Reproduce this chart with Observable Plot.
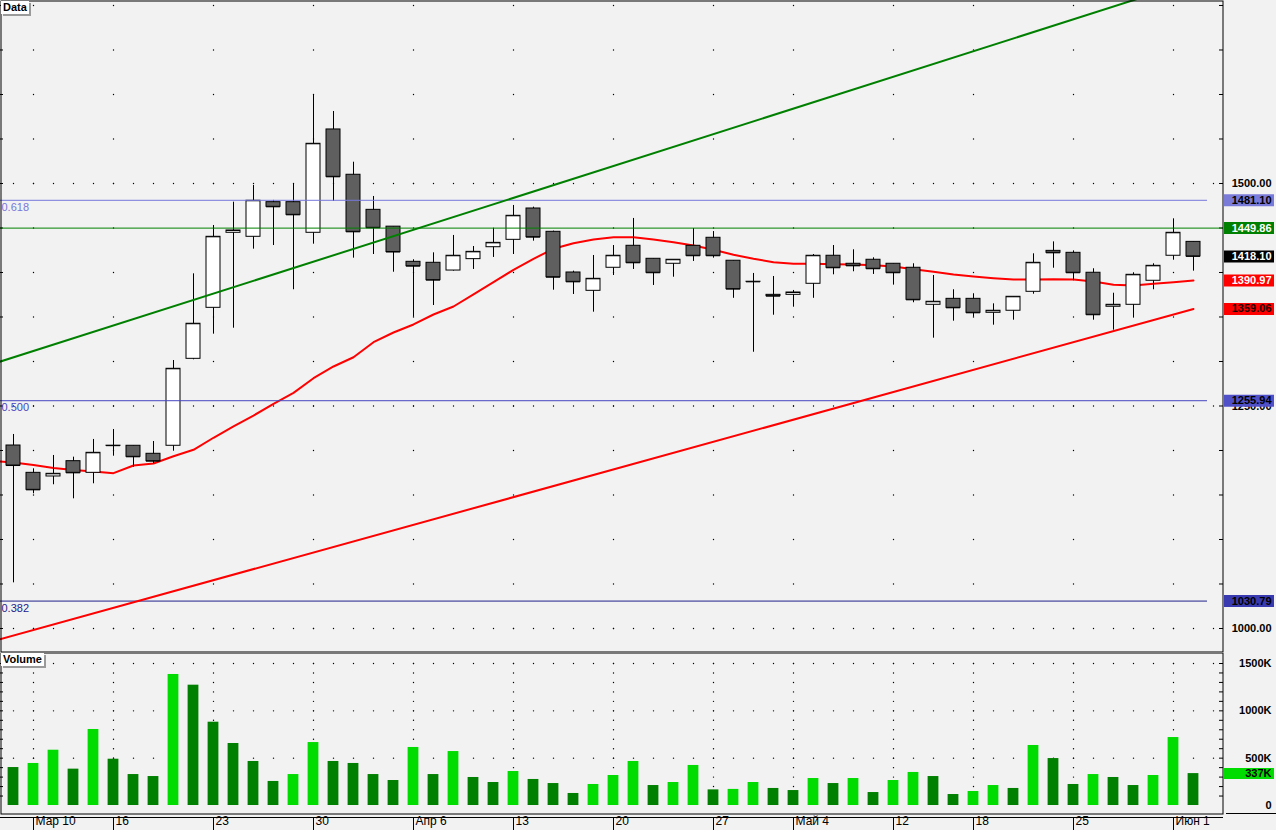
<!DOCTYPE html>
<html><head><meta charset="utf-8">
<script src="https://cdn.jsdelivr.net/npm/d3@7"></script>
<script src="https://cdn.jsdelivr.net/npm/@observablehq/plot@0.6"></script>
<style>
html,body{margin:0;padding:0;background:#f2f2f2;overflow:hidden;}
#chart{position:relative;width:1276px;height:830px;overflow:hidden;background:#f2f2f2;}
#chart svg{position:absolute;left:0;}
.tag{position:absolute;left:1px;background:#fff;font:bold 11px "Liberation Sans",Arial,sans-serif;color:#000;padding:0 2px 0 2px;line-height:13px;height:13px;box-shadow:2px 2px 0 #9a9a9a;}
</style></head><body><div id="chart"></div>
<script>
// ---- data ----
const openP  = [1205.6,1174.9,1170.8,1188.0,1174.9,1205.2,1205.3,1196.3,1205.3,1303.0,1360.3,1444.6,1440.1,1479.0,1479.0,1444.6,1560.7,1509.8,1470.4,1451.5,1412.0,1410.9,1402.2,1415.0,1428.4,1436.7,1471.9,1445.7,1400.0,1379.4,1405.3,1430.0,1415.4,1409.8,1430.0,1439.0,1413.2,1389.6,1374.9,1374.9,1387.3,1418.8,1409.8,1414.3,1409.8,1405.3,1363.7,1370.4,1370.4,1354.7,1357.0,1378.3,1424.3,1422.1,1399.7,1361.5,1363.7,1390.7,1418.8,1434.4];
const highP  = [1218.0,1179.4,1194.4,1192.5,1212.4,1223.6,1205.3,1210.1,1301.1,1398.5,1452.8,1479.0,1497.8,1481.0,1499.6,1599.6,1580.9,1523.9,1485.4,1451.5,1414.3,1422.1,1441.6,1429.2,1449.8,1475.3,1473.4,1446.5,1401.5,1419.1,1430.3,1460.7,1415.4,1414.3,1449.4,1446.0,1413.2,1398.9,1395.5,1379.8,1420.2,1430.3,1425.5,1416.5,1409.8,1409.8,1396.6,1380.6,1376.1,1364.8,1372.7,1421.0,1434.4,1424.3,1404.2,1376.7,1399.7,1409.8,1460.3,1434.4];
const lowP   = [1051.3,1151.3,1161.5,1145.7,1162.6,1193.6,1181.2,1185.0,1199.2,1301.9,1330.7,1337.4,1426.2,1430.3,1380.6,1431.8,1479.8,1416.1,1420.2,1400.3,1349.8,1362.9,1401.5,1403.4,1416.9,1420.2,1435.2,1380.1,1375.3,1355.4,1396.6,1403.4,1385.4,1394.7,1412.4,1416.1,1371.0,1310.4,1352.0,1361.0,1371.0,1397.4,1400.8,1397.8,1385.8,1366.0,1326.2,1345.3,1349.8,1340.8,1346.4,1375.6,1404.8,1390.7,1346.4,1335.2,1348.7,1380.6,1413.8,1401.5];
const closeP = [1183.1,1155.8,1173.8,1174.9,1197.4,1205.4,1192.9,1188.0,1291.8,1342.4,1440.1,1447.2,1480.6,1473.8,1464.8,1544.6,1507.5,1445.7,1450.2,1423.0,1407.1,1391.4,1418.8,1423.2,1433.3,1463.7,1439.7,1394.7,1389.5,1392.9,1418.8,1410.9,1399.7,1414.3,1418.8,1418.8,1381.3,1389.5,1373.4,1377.5,1418.8,1405.3,1407.5,1404.2,1399.7,1369.3,1367.1,1360.3,1354.7,1357.0,1372.7,1410.9,1422.1,1399.7,1352.5,1363.7,1397.4,1407.5,1444.6,1418.1];
const volumeK = [401,444,584,384,803,489,327,306,1384,1271,880,655,465,254,327,665,465,444,327,264,613,327,570,296,243,359,275,232,127,222,317,465,211,243,423,165,170,243,180,158,285,232,285,137,264,349,306,116,148,211,180,634,496,222,327,296,211,317,718,337];
// moving average, first value belongs to the session before the first candle
const maStart = -1;
const maValues = [1188.0,1186.5,1183.7,1180.3,1178.1,1176.4,1174.5,1183.1,1185.4,1193.6,1200.8,1214.3,1227.0,1239.3,1252.5,1264.8,1281.2,1294.4,1304.8,1321.7,1332.6,1341.6,1352.8,1361.8,1375.3,1389.1,1403.0,1415.4,1426.6,1432.9,1437.1,1439.7,1439.7,1437.1,1434.0,1430.3,1425.5,1419.9,1415.4,1411.6,1409.8,1409.8,1409.3,1409.0,1408.2,1406.7,1403.7,1400.8,1397.8,1395.5,1393.6,1392.1,1392.1,1392.5,1392.1,1389.9,1386.2,1385.4,1387.3,1389.1,1390.97];
const dateLabels = ["Мар 10","16","23","30","Апр 6","13","20","27","Май 4","12","18","25","Июн 1"];
const dateIndex  = [1,5,10,15,20,25,30,35,39,44,48,53,58];
const fibLabels = ["0.618","0.500","0.382"];
const fibValues = [1481.10,1255.94,1030.79];
const fibEndIndex = 59.7;
const greenLevel = 1449.86;
const greenTrendIdx = [-1,60], greenTrendVal = [1297.5,1734.7];
const redTrendIdx = [-1,59],  redTrendVal = [985.9,1359.06];
const priceLabelTicks = [1000,1250,1500];
const priceMinorTicks = d3.range(1000,1701,50);
const volLabelTicks = [0,500,1000,1500];
const volMinorTicks = d3.range(100,1501,100);

// ---- scales setup ----
const xDomain = [-0.65, 60.5];
const priceDomain = [973.03, 1705.6];
const volDomain = [-95.07, 1616.2];
const slots = d3.range(0, 61);

const candles = openP.map((o,i)=>({i, o, h: highP[i], l: lowP[i], c: closeP[i]}));
const ma = maValues.map((v,k)=>({i: k + maStart, v}));
const vols = volumeK.map((v,i)=>({i, v, up: i>0 && v > volumeK[i-1]}));
const fibs = fibValues.map((v,k)=>({v, label: fibLabels[k], k}));
const fibColors = ["#7777dc","#4646c0","#22228c"];
const fibTagColors = ["#7a7ad8","#5050c8","#3a3ab0"];
const greenTrend = greenTrendIdx.map((i,k)=>({i, v: greenTrendVal[k]}));
const redTrend = redTrendIdx.map((i,k)=>({i, v: redTrendVal[k]}));
const weeks = dateIndex.map((i,k)=>({i, label: dateLabels[k]}));

const priceTags = [
  {v: fibValues[0], bg: fibTagColors[0], fg: "#000"},
  {v: greenLevel, bg: "#008000", fg: "#fff"},
  {v: closeP[closeP.length-1], bg: "#000", fg: "#fff"},
  {v: maValues[maValues.length-1], bg: "#ff0000", fg: "#fff"},
  {v: redTrendVal[1], bg: "#ff0000", fg: "#200"},
  {v: fibValues[1], bg: fibTagColors[1], fg: "#000"},
  {v: fibValues[2], bg: fibTagColors[2], fg: "#000"}
];

const font = "'Liberation Sans', Arial, sans-serif";
const hw = 0.35; // half body width in slots

const price = Plot.plot({
  width: 1276, height: 652,
  marginLeft: 0, marginRight: 53, marginTop: 0, marginBottom: 0,
  style: {background: "transparent", fontFamily: font, fontSize: "11px", color: "#000", overflow: "hidden"},
  x: {domain: xDomain, axis: null},
  y: {domain: priceDomain, axis: null},
  color: {type: "identity"},
  marks: [
    // dotted grid
    Plot.dot(d3.cross(slots, priceLabelTicks), {x: d=>d[0], y: d=>d[1], r: 0.7, fill: "#000", stroke: null}),
    Plot.dot(d3.cross(dateIndex, priceMinorTicks), {x: d=>d[0], y: d=>d[1], r: 0.7, fill: "#000", stroke: null}),
    // edge ticks
    Plot.ruleY(priceMinorTicks, {x1: xDomain[0], x2: xDomain[0]+0.15, stroke: "#000"}),
    Plot.ruleY(priceMinorTicks, {x1: xDomain[1]-0.2, x2: xDomain[1], stroke: "#000"}),
    // moving average
    Plot.line(ma, {x: "i", y: "v", stroke: "#ff0000", strokeWidth: 2, clip: true}),
    // candles
    Plot.ruleX(candles, {x: "i", y1: "l", y2: "h", stroke: "#000"}),
    Plot.rect(candles, {x1: d=>d.i-hw, x2: d=>d.i+hw, y1: d=>Math.min(d.o,d.c), y2: d=>Math.max(d.o,d.c),
      fill: d=> d.c >= d.o ? "#ffffff" : "#5f5f5f", stroke: "#000", strokeWidth: 1}),
    Plot.ruleY(candles, {y: "c", x1: d=>d.i-hw, x2: d=>d.i+hw, stroke: "#000"}),
    // fibonacci levels
    Plot.ruleY(fibs, {y: "v", x1: xDomain[0], x2: fibEndIndex, stroke: d=>fibColors[d.k]}),
    Plot.text(fibs, {y: "v", text: "label", frameAnchor: "left", dx: 1, dy: 7, textAnchor: "start", fill: d=>fibColors[d.k], fontSize: 11}),
    // horizontal green level
    Plot.ruleY([greenLevel], {stroke: "#008000"}),
    // trend lines
    Plot.line(greenTrend, {x: "i", y: "v", stroke: "#008000", strokeWidth: 2, clip: true}),
    Plot.line(redTrend, {x: "i", y: "v", stroke: "#ff0000", strokeWidth: 2, clip: true}),
    // right axis labels
    Plot.text(priceLabelTicks, {y: d=>d, text: d=>d.toFixed(2), frameAnchor: "right", dx: 48, textAnchor: "end", fontWeight: "bold", fill: "#000"}),
    // value tags
    Plot.ruleY(priceTags, {y: "v", stroke: "bg", strokeWidth: 12, insetLeft: 1173, insetRight: 0, dx: 51}),
    Plot.text(priceTags, {y: "v", text: d=>d.v.toFixed(2), fill: "fg", frameAnchor: "right", dx: 48, textAnchor: "end", fontWeight: "bold"}),
    Plot.frame({stroke: "#000", inset: 0.5})
  ]
});
price.style.top = "0px";

const volume = Plot.plot({
  width: 1276, height: 178,
  marginLeft: 0, marginRight: 53, marginTop: 0, marginBottom: 16,
  style: {background: "transparent", fontFamily: font, fontSize: "11px", color: "#000", overflow: "hidden"},
  x: {domain: xDomain, axis: null},
  y: {domain: volDomain, axis: null},
  color: {type: "identity"},
  marks: [
    Plot.dot(d3.cross(slots, volLabelTicks.filter(d=>d>0)), {x: d=>d[0], y: d=>d[1], r: 0.7, fill: "#000", stroke: null}),
    Plot.dot(d3.cross(dateIndex, volMinorTicks), {x: d=>d[0], y: d=>d[1], r: 0.7, fill: "#000", stroke: null}),
    Plot.ruleY(volMinorTicks, {x1: xDomain[0], x2: xDomain[0]+0.15, stroke: "#000"}),
    Plot.ruleY(volMinorTicks, {x1: xDomain[1]-0.2, x2: xDomain[1], stroke: "#000"}),
    Plot.rect(vols, {x1: d=>d.i-0.27, x2: d=>d.i+0.27, y1: 0, y2: "v", fill: d=> d.up ? "#00dc00" : "#008000"}),
    Plot.text(volLabelTicks, {y: d=>d, text: d=> d===0 ? "0" : d+"K", frameAnchor: "right", dx: 48, textAnchor: "end", fontWeight: "bold", fill: "#000"}),
    Plot.ruleY([volumeK[volumeK.length-1]], {stroke: "#00dc00", strokeWidth: 11, insetLeft: 1173, insetRight: 0, dx: 51}),
    Plot.text([volumeK[volumeK.length-1]], {y: d=>d, text: d=>d+"K", frameAnchor: "right", dx: 48, textAnchor: "end", fontWeight: "bold", fill: "#000"}),
    Plot.frame({stroke: "#000", inset: 0.5}),
    Plot.ruleY([volDomain[0]], {insetLeft: 1173, insetRight: 0, dx: 53, dy: -1, stroke: "#000"}),
    // date axis
    Plot.ruleY([volDomain[0]], {stroke: "#000", dy: 3}),
    Plot.ruleX(weeks, {x: "i", insetTop: 149, dy: 16, stroke: "#000"}),
    Plot.text(weeks, {x: "i", text: "label", frameAnchor: "bottom", dy: 10, dx: 2, textAnchor: "start", fontSize: 12, fill: "#000"})
  ]
});
volume.style.top = "652px";

const chart = document.getElementById("chart");
chart.appendChild(price);
chart.appendChild(volume);
const t1 = document.createElement("div"); t1.className = "tag"; t1.textContent = "Data"; t1.style.top = "1px"; chart.appendChild(t1);
const t2 = document.createElement("div"); t2.className = "tag"; t2.textContent = "Volume"; t2.style.top = "653px"; chart.appendChild(t2);
</script></body></html>
